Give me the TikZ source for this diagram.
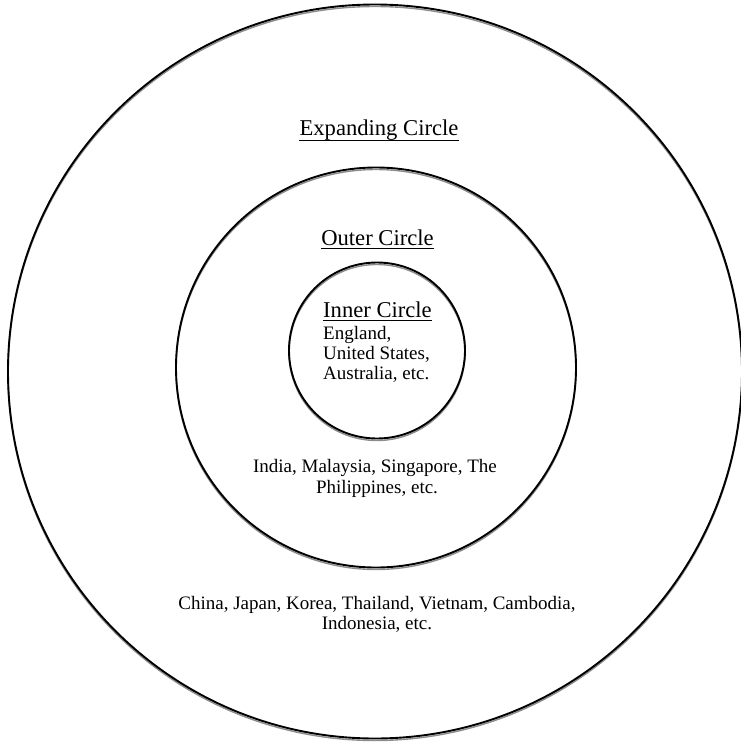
\documentclass[tikz,border=0pt]{standalone}
\usepackage{fontspec}
\setmainfont{Liberation Serif}
\begin{document}
\begin{tikzpicture}[x=1pt,y=-1pt,
  ring/.style={circle, draw=black, line width=1.9pt, inner sep=0pt, outer sep=0pt},
  ringshade/.style={draw=black!45, line width=1.4pt},
  head/.style={font=\fontsize{22.6}{26}\selectfont, inner sep=0pt},
  body/.style={font=\fontsize{19}{20}\selectfont, inner sep=0pt},
  uline/.style={line width=0.9pt}]
\useasboundingbox (0,0) rectangle (741,745);
% shadows (grey copies, slightly lower)
\draw[ringshade] (375,373.5) circle[radius=367pt];
\draw[ringshade] (376,369.5) circle[radius=200pt];
\draw[ringshade] (377,352.5) circle[radius=88pt];
% circles
\node[ring, minimum size=734pt] (outer) at (375,371.5) {};
\node[ring, minimum size=400pt] (middle) at (376,367.5) {};
\node[ring, minimum size=176pt] (inner) at (377,350.5) {};
% Expanding circle
\node[head, anchor=base] (ec) at (379,135) {Expanding Circle};
\draw[uline] ([yshift=-5pt]ec.base west) -- ([yshift=-5pt]ec.base east);
\node[body, anchor=base] (ec1) at (377,609) {China, Japan, Korea, Thailand, Vietnam, Cambodia,};
\node[body, anchor=base] (ec2) at (377,629) {Indonesia, etc.};
% Outer circle
\node[head, anchor=base] (oc) at (377.5,245) {Outer Circle};
\draw[uline] ([yshift=-3pt]oc.base west) -- ([yshift=-3pt]oc.base east);
\node[body, anchor=base] (oc1) at (375,472) {India, Malaysia, Singapore, The};
\node[body, anchor=base] (oc2) at (377,493) {Philippines, etc.};
% Inner circle
\node[head, anchor=base west] (ic) at (323,317) {Inner Circle};
\draw[uline] ([yshift=-3.5pt]ic.base west) -- ([yshift=-3.5pt]ic.base east);
\node[body, anchor=base west] (ic1) at (323,339) {England,};
\node[body, anchor=base west] (ic2) at (323,359) {United States,};
\node[body, anchor=base west] (ic3) at (323,379) {Australia, etc.};
\end{tikzpicture}
\end{document}
